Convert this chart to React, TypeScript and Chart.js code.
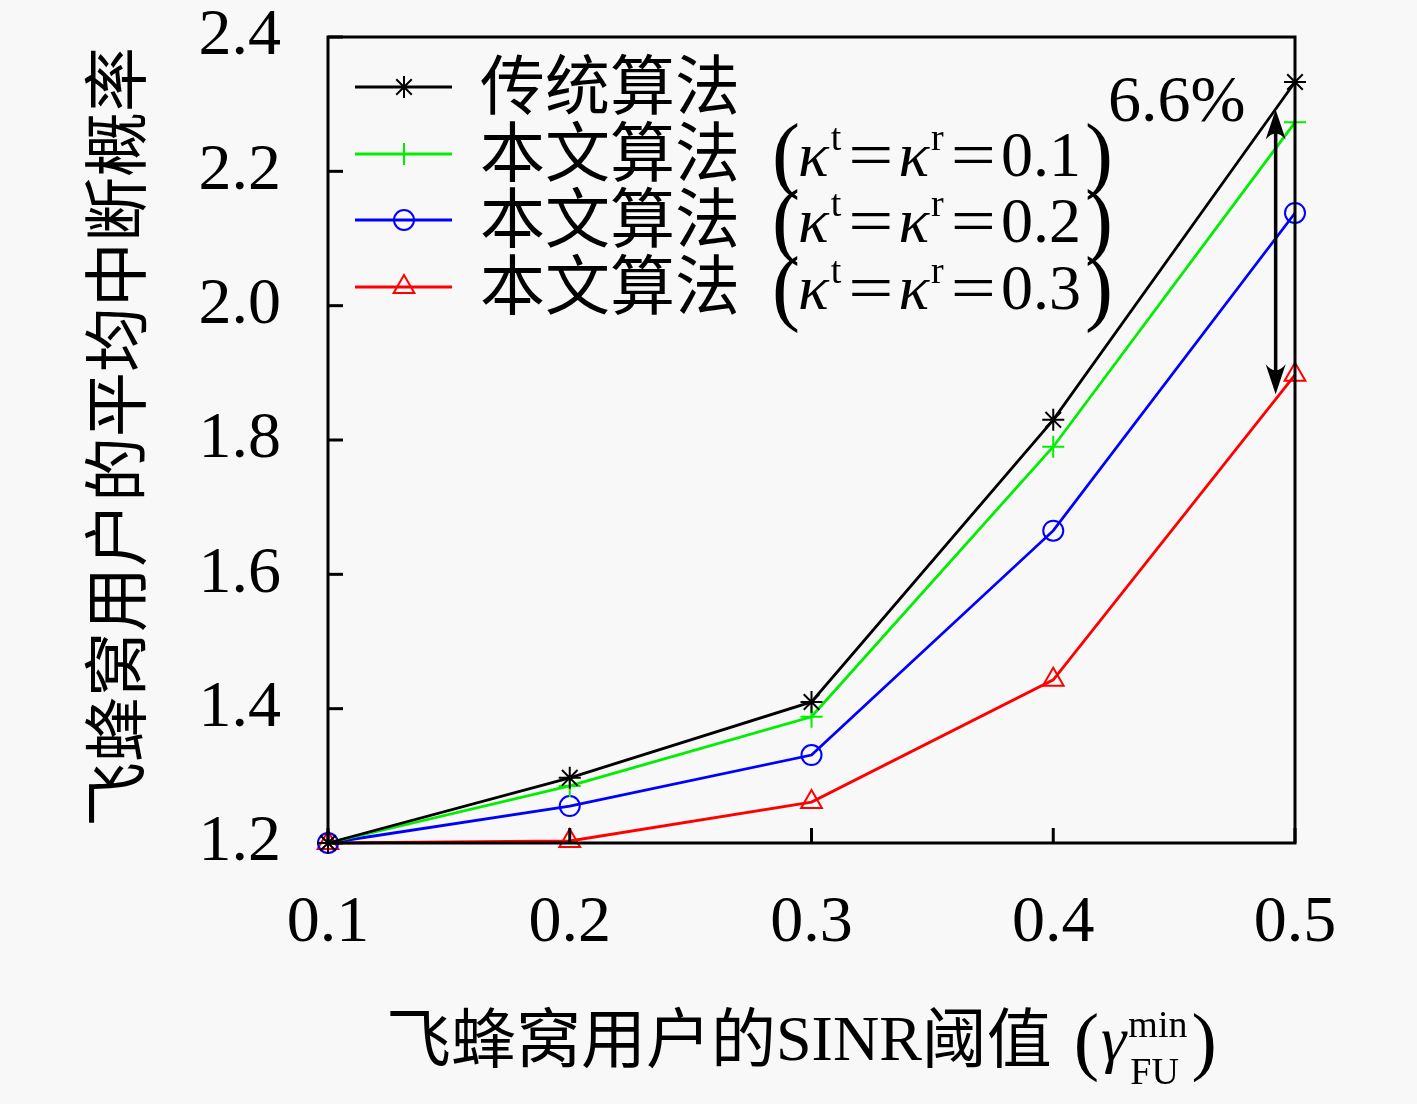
import { useEffect, useRef } from "react"
import Chart from "chart.js/auto"
import { drawPoint } from "chart.js/helpers"

// data
const thresholds = [0.1, 0.2, 0.3, 0.4, 0.5]
const traditional = [1.2, 1.297, 1.41, 1.83, 2.333]
const kappa01 = [1.2, 1.285, 1.388, 1.79, 2.273]
const kappa02 = [1.2, 1.255, 1.331, 1.665, 2.138]
const kappa03 = [1.2, 1.203, 1.261, 1.443, 1.897]
const yTicks = [1.2, 1.4, 1.6, 1.8, 2.0, 2.2, 2.4]

const seriesNames = ["传统算法", "本文算法", "本文算法", "本文算法"]
const kappaValues = ["", "0.1", "0.2", "0.3"]
const colors = ["#000000", "#00ee00", "#0000ff", "#ff0000"]
const markers = ["star", "cross", "circle", "triangle"] as const
const markerSizes = [11, 11, 10, 12]

// annotation: gap between traditional and kappa=0.3 at the last point
const arrowX = 0.492
const arrowTop = 2.292
const arrowBottom = 1.868
const gapLabel = "6.6%"

const yTitle = "飞蜂窝用户的平均中断概率"
const xTitle = "飞蜂窝用户的"

const CJK = "\"Noto Sans CJK SC\""
const SERIF = "\"Liberation Serif\", \"DejaVu Serif\", serif"

function drawArrowHead(ctx: CanvasRenderingContext2D, x: number, y: number, dir: number) {
  // dir = -1 points up, 1 points down
  const len = 30
  const half = 10
  ctx.beginPath()
  ctx.moveTo(x, y)
  ctx.lineTo(x - half, y - dir * len)
  ctx.quadraticCurveTo(x, y - dir * len * 0.6, x + half, y - dir * len)
  ctx.closePath()
  ctx.fill()
}

const decorations = {
  id: "decorations",
  afterDatasetsDraw(chart: Chart) {
    const { ctx, chartArea } = chart
    const xs = chart.scales.x
    const ys = chart.scales.y
    ctx.save()

    // frame
    ctx.strokeStyle = "#000"
    ctx.lineWidth = 3
    ctx.strokeRect(chartArea.left, chartArea.top, chartArea.right - chartArea.left, chartArea.bottom - chartArea.top)

    // inward ticks
    yTicks.forEach((v) => {
      const py = ys.getPixelForValue(v)
      ctx.beginPath()
      ctx.moveTo(chartArea.left, py)
      ctx.lineTo(chartArea.left + 15, py)
      ctx.stroke()
    })
    thresholds.forEach((v) => {
      const px = xs.getPixelForValue(v)
      ctx.beginPath()
      ctx.moveTo(px, chartArea.bottom)
      ctx.lineTo(px, chartArea.bottom - 15)
      ctx.stroke()
    })

    // double arrow
    const ax = xs.getPixelForValue(arrowX)
    const at = ys.getPixelForValue(arrowTop)
    const ab = ys.getPixelForValue(arrowBottom)
    ctx.fillStyle = "#000"
    ctx.lineWidth = 3.5
    ctx.beginPath()
    ctx.moveTo(ax, at + 20)
    ctx.lineTo(ax, ab - 20)
    ctx.stroke()
    drawArrowHead(ctx, ax, at, -1)
    drawArrowHead(ctx, ax, ab, 1)

    ctx.font = `66px ${SERIF}`
    ctx.textAlign = "left"
    ctx.textBaseline = "alphabetic"
    ctx.fillText(gapLabel, 1108, 121)

    // legend
    const rows = [87, 154, 220, 287]
    rows.forEach((ry, i) => {
      ctx.strokeStyle = colors[i]
      ctx.lineWidth = 3
      ctx.beginPath()
      ctx.moveTo(355, ry)
      ctx.lineTo(452, ry)
      ctx.stroke()
      ctx.fillStyle = "rgba(0,0,0,0)"
      ctx.lineWidth = 2
      drawPoint(ctx, { pointStyle: markers[i], rotation: 0, radius: markerSizes[i], borderWidth: 2 } as any, 404, ry)

      ctx.fillStyle = "#000"
      ctx.textAlign = "left"
      ctx.textBaseline = "alphabetic"
      const base = ry + 22
      ctx.font = `65px ${CJK}`
      ctx.fillText(seriesNames[i], 480, base)
      if (kappaValues[i]) {
        let x = 772
        ctx.font = `84px ${SERIF}`
        ctx.fillText("(", x, base + 6)
        x += 26
        const parts: [string, string, number][] = [
          ["κ", "italic 64px " + SERIF, 0],
          ["t", "38px " + SERIF, -26],
          ["=", "64px " + SERIF, 0],
          ["κ", "italic 64px " + SERIF, 0],
          ["r", "38px " + SERIF, -26],
          ["=", "64px " + SERIF, 0],
          [kappaValues[i], "64px " + SERIF, 0],
        ]
        parts.forEach(([t, f, dy]) => {
          ctx.font = f
          if (t === "=") {
            x += 5
            ctx.save()
            ctx.translate(x, base)
            ctx.scale(1.25, 1)
            ctx.fillText(t, 0, 0)
            ctx.restore()
            x += ctx.measureText(t).width * 1.25 + 5
          } else {
            ctx.fillText(t, x, base + dy)
            x += ctx.measureText(t).width + 2
          }
        })
        ctx.font = `84px ${SERIF}`
        ctx.fillText(")", x + 2, base + 6)
      }
    })

    // y title
    ctx.save()
    ctx.translate(115, 437)
    ctx.rotate(-Math.PI / 2)
    ctx.font = `65px ${CJK}`
    ctx.textAlign = "center"
    ctx.textBaseline = "middle"
    ctx.fillText(yTitle, 0, 0)
    ctx.restore()

    // x title
    ctx.textAlign = "left"
    ctx.textBaseline = "alphabetic"
    ctx.font = `65px ${CJK}`
    let tx = 386
    const tb = 1062
    ctx.fillText(xTitle, tx, tb)
    tx += ctx.measureText(xTitle).width
    ctx.font = `64px ${SERIF}`
    ctx.fillText("SINR", tx, tb - 2)
    tx += ctx.measureText("SINR").width
    ctx.font = `65px ${CJK}`
    ctx.fillText("阈值", tx, tb)
    tx += ctx.measureText("阈值").width + 22
    ctx.font = `76px ${SERIF}`
    ctx.fillText("(", tx, tb + 4)
    tx += ctx.measureText("(").width + 2
    ctx.font = `italic 64px ${SERIF}`
    ctx.fillText("γ", tx, tb - 2)
    tx += ctx.measureText("γ").width + 2
    ctx.font = `38px ${SERIF}`
    ctx.fillText("min", tx, tb - 25)
    ctx.fillText("FU", tx + 2, tb + 22)
    tx += ctx.measureText("min").width + 4
    ctx.font = `76px ${SERIF}`
    ctx.fillText(")", tx, tb + 4)

    ctx.restore()
  },
}

export default function App() {
  const canvasRef = useRef<HTMLCanvasElement>(null)
  const chartRef = useRef<Chart | null>(null)

  useEffect(() => {
    if (!canvasRef.current) return
    if (chartRef.current) chartRef.current.destroy()

    const series = [traditional, kappa01, kappa02, kappa03]
    chartRef.current = new Chart(canvasRef.current, {
      type: "line",
      data: {
        datasets: series.map((vals, i) => ({
          label: String(i),
          data: thresholds.map((x, j) => ({ x, y: vals[j] })),
          borderColor: colors[i],
          borderWidth: 2.8,
          pointStyle: markers[i],
          pointRadius: markerSizes[i],
          pointBorderWidth: 2,
          pointBorderColor: colors[i],
          pointBackgroundColor: "rgba(0,0,0,0)",
          tension: 0,
          clip: false as any,
        })),
      },
      options: {
        responsive: false,
        animation: false,
        devicePixelRatio: 1,
        layout: { padding: { left: 0, top: 37, right: 122, bottom: 0 } },
        plugins: { legend: { display: false }, tooltip: { enabled: false } },
        scales: {
          x: {
            type: "linear",
            min: 0.1,
            max: 0.5,
            grid: { display: false },
            border: { display: false },
            afterFit: (s: any) => {
              s.height = 261
              s.paddingLeft = 0
              s.paddingRight = 0
            },
            ticks: {
              stepSize: 0.1,
              padding: 40,
              color: "#000",
              font: { family: SERIF, size: 66, lineHeight: 1 },
              callback: (v: any) => Number(v).toFixed(1),
            },
          },
          y: {
            min: 1.2,
            max: 2.4,
            grid: { display: false },
            border: { display: false },
            afterFit: (s: any) => {
              s.width = 328
              s.paddingTop = 0
              s.paddingBottom = 0
            },
            ticks: {
              stepSize: 0.2,
              padding: 39,
              color: "#000",
              font: { family: SERIF, size: 66, lineHeight: 1 },
              callback: (v: any) => Number(v).toFixed(1),
            },
          },
        },
      },
      plugins: [decorations],
    })

    return () => {
      if (chartRef.current) {
        chartRef.current.destroy()
        chartRef.current = null
      }
    }
  }, [])

  return (
    <div style={{ position: "absolute", left: 0, top: 0, width: 1417, height: 1104, background: "#f8f8f8" }}>
      <canvas ref={canvasRef} width={1417} height={1104} style={{ width: 1417, height: 1104 }} />
    </div>
  )
}
